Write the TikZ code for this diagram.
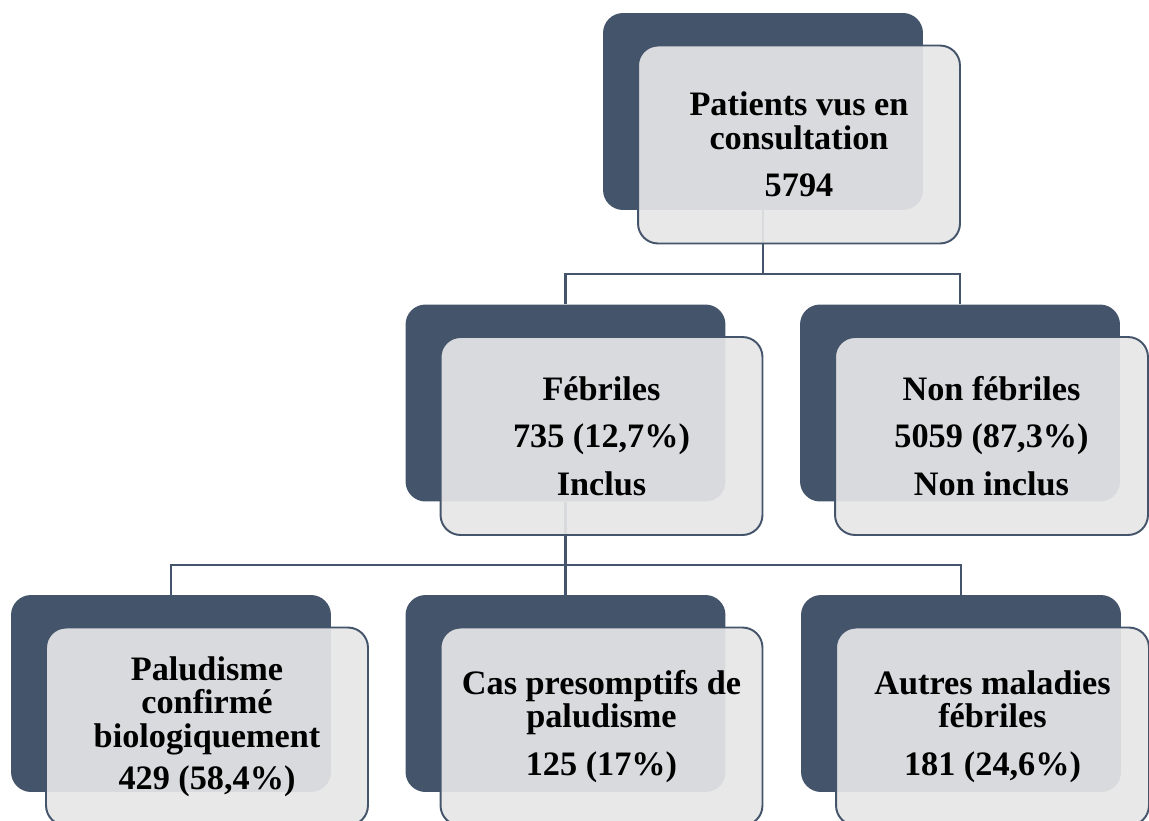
\documentclass[tikz,border=0pt]{standalone}
\usepackage{fontspec}
\setmainfont{Liberation Serif}
\usetikzlibrary{positioning,calc}
\definecolor{slate}{HTML}{44546A}
\definecolor{paper}{HTML}{E6E6E7}

\begin{document}
\begin{tikzpicture}[
    x=0.02cm, y=-0.02cm,
    back/.style={rectangle, rounded corners=0.4cm, fill=slate, minimum width=6.4cm, minimum height=3.94cm, inner sep=0pt},
    front/.style={rectangle, rounded corners=0.4cm, draw=slate, line width=1.1pt, fill=paper, fill opacity=0.92, text opacity=1, minimum width=6.44cm, minimum height=3.96cm, inner sep=0pt, align=center, font=\bfseries\fontsize{19.5}{19}\selectfont},
    link/.style={draw=slate, line width=1.3pt}
]
\useasboundingbox (0,0) rectangle (1149,821);
\clip (0,0) rectangle (1149,821);

% fonds
\node[back] (patients-bg) at (763,111.5) {};
\node[back] (febriles-bg) at (565.5,403) {};
\node[back] (nonfeb-bg) at (960,403) {};
\node[back] (palu-bg) at (171,693.5) {};
\node[back] (cas-bg) at (565.5,693.5) {};
\node[back] (autres-bg) at (961,693.5) {};

% liaisons
\draw[link] (patients-bg.south) -- ++(0,64) -| (febriles-bg.north);
\draw[link] (patients-bg.south) -- ++(0,64) -| (nonfeb-bg.north);
\draw[link] (febriles-bg.south) -- ++(0,63.5) -| (palu-bg.north);
\draw[link] (febriles-bg.south) -- ++(0,63.5) -| (cas-bg.north);
\draw[link] (febriles-bg.south) -- ++(0,63.5) -| (autres-bg.north);

% cadres
\node[front] (patients) at ($(patients-bg)+(36,33)$) {Patients vus en\\consultation\\[8pt]5794};
\node[front] (febriles) at ($(febriles-bg)+(36,33)$) {Fébriles\\[8pt]735 (12,7\%)\\[8pt]Inclus};
\node[front, minimum width=6.26cm] (nonfeb) at ($(nonfeb-bg)+(31.5,33)$) {Non fébriles\\[8pt]5059 (87,3\%)\\[8pt]Non inclus};
\node[front] (palu) at ($(palu-bg)+(36,33)$) {Paludisme\\confirmé\\biologiquement\\[5pt]429 (58,4\%)};
\node[front] (cas) at ($(cas-bg)+(36,33)$) {Cas presomptifs de\\paludisme\\[8pt]125 (17\%)};
\node[front, minimum width=6.26cm] (autres) at ($(autres-bg)+(31.5,33)$) {Autres maladies\\fébriles\\[8pt]181 (24,6\%)};

\end{tikzpicture}
\end{document}
